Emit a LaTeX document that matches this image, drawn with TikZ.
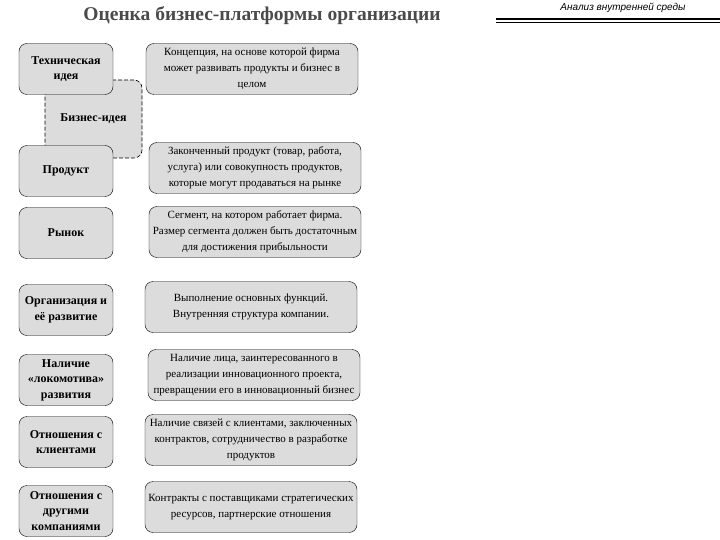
\documentclass[tikz,border=0pt]{standalone}
\usepackage{fontspec}
\setmainfont{Liberation Serif}
\newfontfamily\hdrfont{Liberation Sans}
\definecolor{boxgray}{HTML}{DCDCDC}
\definecolor{titlegray}{HTML}{4A4A4A}
\begin{document}
\begin{tikzpicture}[
  x=1pt, y=-1pt,
  lbox/.style={draw, fill=boxgray, rounded corners=8pt, minimum width=94pt, minimum height=51pt,
    align=center, inner sep=2pt, font=\fontsize{12}{15.5}\selectfont\bfseries},
  dbox/.style={draw, fill=boxgray, rounded corners=8pt, minimum width=212pt, minimum height=51pt,
    align=center, inner sep=1pt, font=\fontsize{11}{16}\selectfont},
  ideabox/.style={draw, dash pattern=on 4pt off 2pt, line width=0.6pt, fill=boxgray, rounded corners=8pt,
    minimum width=97pt, minimum height=78pt, font=\fontsize{12}{15}\selectfont\bfseries}
]
\useasboundingbox (0,0) rectangle (720,540);
% heading
\node[font=\fontsize{19.5}{22}\selectfont\bfseries, text=titlegray] (title) at (262,16) {Оценка бизнес-платформы организации};
\node[font=\hdrfont\itshape\fontsize{10}{12}\selectfont] (section) at (623,8) {Анализ внутренней среды};
\coordinate (rl) at (496,19);
\coordinate (rr) at (720,19);
\draw[line width=1.6pt] (rl) -- (rr);
\draw[line width=0.6pt] ([yshift=-3pt]rl) -- ([yshift=-3pt]rr);
% business idea behind
\node[ideabox] (bizidea) at (93.5,119) {Бизнес-идея};
% left column
\node[lbox] (tech) at (66,69) {Техническая\\идея};
\node[lbox] (product) at (66,171) {Продукт};
\node[lbox] (market) at (66,233) {Рынок};
\node[lbox] (org) at (66,310) {Организация и\\её развитие};
\node[lbox] (loco) at (66,380) {Наличие\\«локомотива»\\развития};
\node[lbox] (clients) at (66,442) {Отношения с\\клиентами};
\node[lbox] (partners) at (66,511) {Отношения с\\другими\\компаниями};
% right column
\node[dbox] (techd) at (252,69) {Концепция, на основе которой фирма\\может развивать продукты и бизнес в\\целом};
\node[dbox] (productd) at (255,168) {Законченный продукт (товар, работа,\\услуга) или совокупность продуктов,\\которые могут продаваться на рынке};
\node[dbox] (marketd) at (255,232) {Сегмент, на котором работает фирма.\\Размер сегмента должен быть достаточным\\для достижения прибыльности};
\node[dbox] (orgd) at (251,307) {Выполнение основных функций.\\Внутренняя структура компании.};
\node[dbox] (locod) at (254,375) {Наличие лица, заинтересованного в\\реализации инновационного проекта,\\превращении его в инновационный бизнес};
\node[dbox] (clientsd) at (251,440) {Наличие связей с клиентами, заключенных\\контрактов, сотрудничество в разработке\\продуктов};
\node[dbox] (partnersd) at (251,507) {Контракты с поставщиками стратегических\\ресурсов, партнерские отношения};
\end{tikzpicture}
\end{document}
